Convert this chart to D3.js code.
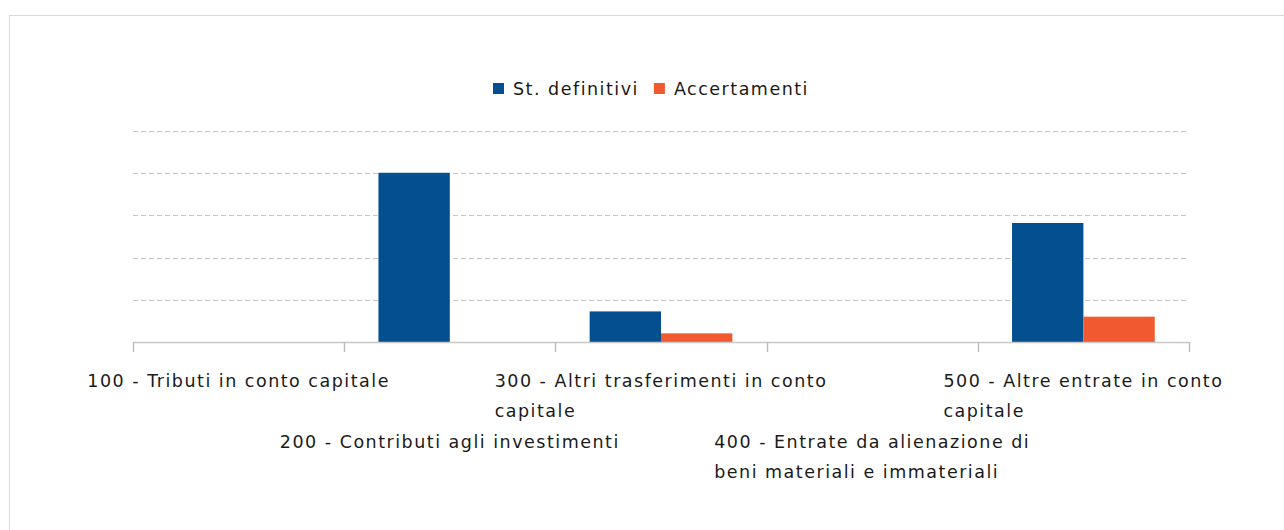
<!DOCTYPE html>
<html>
<head>
<meta charset="utf-8">
<script src="https://cdn.jsdelivr.net/npm/d3@7"></script>
<style>
  body { margin: 0; background: #fff; }
  text { font-family: "DejaVu Sans", sans-serif; fill: #1a1a1a; letter-spacing: 1.5px; }
</style>
</head>
<body>
<div id="chart"></div>
<script>
// categories and values (euro)
const categories = ['100', '200', '300', '400', '500'];
const categoryLabels = [
  ['100 - Tributi in conto capitale'],
  ['200 - Contributi agli investimenti'],
  ['300 - Altri trasferimenti in conto', 'capitale'],
  ['400 - Entrate da alienazione di', 'beni materiali e immateriali'],
  ['500 - Altre entrate in conto', 'capitale']
];
const seriesNames = ['St. definitivi', 'Accertamenti'];
const stDefinitivi = [0, 401000, 72500, 0, 282000];
const accertamenti = [0, 0, 20500, 0, 60000];
const yTicks = [0, 100000, 200000, 300000, 400000, 500000];
const colors = ['#044f8f', '#f15a30'];

const width = 1284, height = 530;
const margin = {top: 131, right: 95, bottom: 188, left: 133};
const plotW = width - margin.left - margin.right;
const plotH = height - margin.top - margin.bottom;

const svg = d3.select('#chart')
  .append('svg')
  .attr('width', width)
  .attr('height', height);

// outer frame
svg.append('rect')
  .attr('x', 9.5).attr('y', 15.5)
  .attr('width', width + 10).attr('height', height + 10)
  .attr('fill', 'none')
  .attr('stroke', '#d9d9d9');

const g = svg.append('g')
  .attr('transform', 'translate(' + margin.left + ',' + margin.top + ')');

const x0 = d3.scaleBand()
  .domain(categories)
  .range([0, plotW])
  .padding(0);

const x1 = d3.scaleBand()
  .domain(seriesNames)
  .range([0, x0.bandwidth()])
  .paddingInner(0)
  .paddingOuter(0.48);

const y = d3.scaleLinear()
  .domain([0, 500000])
  .range([plotH, 0]);

// gridlines
g.selectAll('.grid')
  .data(yTicks)
  .enter()
  .append('line')
    .attr('class', 'grid')
    .attr('x1', 0)
    .attr('x2', plotW)
    .attr('y1', d => Math.round(y(d)) + 0.5)
    .attr('y2', d => Math.round(y(d)) + 0.5)
    .attr('stroke', '#c4c4c4')
    .attr('stroke-width', 1)
    .attr('stroke-dasharray', '5,3');

// bars
const rows = categories.map((c, i) => ({cat: c, vals: [stDefinitivi[i], accertamenti[i]]}));

const groups = g.selectAll('.group')
  .data(rows)
  .enter()
  .append('g')
    .attr('transform', d => 'translate(' + x0(d.cat) + ',0)');

groups.selectAll('rect')
  .data(d => d.vals.map((v, k) => ({name: seriesNames[k], value: v, k: k})))
  .enter()
  .append('rect')
    .attr('x', d => x1(d.name))
    .attr('y', d => y(d.value))
    .attr('width', x1.bandwidth())
    .attr('height', d => plotH - y(d.value))
    .attr('fill', d => colors[d.k]);

// x axis
const xAxisGroup = g.append('g')
  .attr('transform', 'translate(0,' + plotH + ')');

xAxisGroup.append('line')
  .attr('x1', 0).attr('x2', plotW)
  .attr('y1', 0.5).attr('y2', 0.5)
  .attr('stroke', '#c8c8c8')
  .attr('stroke-width', 1.5);

const tickPos = categories.map(c => x0(c)).concat([x0(categories[categories.length - 1]) + x0.bandwidth()]);
xAxisGroup.selectAll('.tick')
  .data(tickPos)
  .enter()
  .append('line')
    .attr('x1', d => Math.round(d) + 0.5)
    .attr('x2', d => Math.round(d) + 0.5)
    .attr('y1', 0)
    .attr('y2', 10)
    .attr('stroke', '#bdbdbd')
    .attr('stroke-width', 1.5);

// category labels, staggered in two rows
const lineH = 30.3;
const labels = xAxisGroup.selectAll('.lab')
  .data(categories)
  .enter()
  .append('text')
    .attr('class', 'lab')
    .style('font-size', '17.5px');

labels.each(function(c, i) {
  const t = d3.select(this);
  const startRow = i % 2 === 0 ? 0 : 2;
  categoryLabels[i].forEach((line, j) => {
    t.append('tspan')
      .attr('y', 39 + (startRow + j) * lineH)
      .attr('dominant-baseline', 'central')
      .text(line);
  });
  let maxLen = 0;
  t.selectAll('tspan').each(function() {
    maxLen = Math.max(maxLen, this.getComputedTextLength());
  });
  const left = x0(c) + x0.bandwidth() / 2 - maxLen / 2;
  t.selectAll('tspan').attr('x', left);
});

// legend
const legend = svg.append('g');
const legendItems = legend.selectAll('g')
  .data(seriesNames)
  .enter()
  .append('g');

legendItems.append('rect')
  .attr('width', 11)
  .attr('height', 11)
  .attr('y', 83)
  .attr('fill', (d, i) => colors[i]);

legendItems.append('text')
  .attr('x', 20)
  .attr('y', 88.5)
  .attr('dominant-baseline', 'central')
  .style('font-size', '17.5px')
  .text(d => d);

let lx = 0;
legendItems.each(function() {
  const item = d3.select(this);
  item.attr('transform', 'translate(' + lx + ',0)');
  lx += 20 + item.select('text').node().getComputedTextLength() + 15;
});
const legendW = lx - 15;
legend.attr('transform', 'translate(' + (651 - legendW / 2) + ',0)');
</script>
</body>
</html>
